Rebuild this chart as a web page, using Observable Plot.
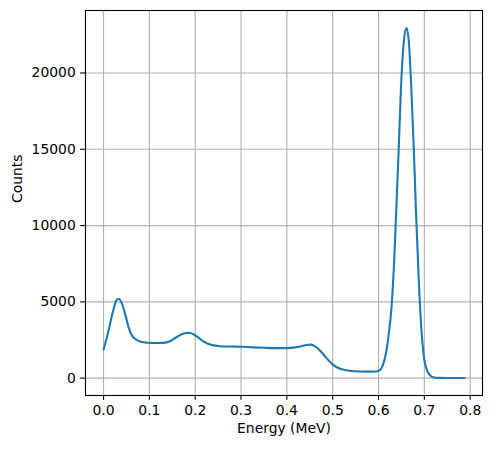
<!DOCTYPE html>
<html>
<head>
<meta charset="utf-8">
<script src="https://cdn.jsdelivr.net/npm/d3@7"></script>
<script src="https://cdn.jsdelivr.net/npm/@observablehq/plot@0.6"></script>
<style>
  html, body { margin: 0; padding: 0; background: #fff; }
  #chart { width: 492px; height: 450px; }
</style>
</head>
<body>
<div id="chart"></div>
<script>
// Energy (MeV) and counts
const energy = [
  0.000, 0.010, 0.020, 0.028, 0.033, 0.040, 0.048, 0.055, 0.062, 0.070,
  0.080, 0.090, 0.100, 0.115, 0.130, 0.145, 0.160, 0.175, 0.187, 0.197,
  0.207, 0.217, 0.228, 0.240, 0.255, 0.275, 0.300, 0.325, 0.350, 0.375,
  0.400, 0.415, 0.430, 0.443, 0.452, 0.460, 0.470, 0.480, 0.490, 0.500,
  0.510, 0.522, 0.540, 0.560, 0.580, 0.595, 0.603, 0.610, 0.616, 0.622,
  0.628, 0.634, 0.639, 0.644, 0.649, 0.655, 0.661, 0.666, 0.671, 0.677,
  0.682, 0.688, 0.694, 0.700, 0.706, 0.713, 0.720, 0.730, 0.750, 0.770,
  0.7875
];
const counts = [
  1880, 3000, 4300, 5100, 5200, 4900, 4100, 3300, 2800, 2550,
  2400, 2340, 2320, 2300, 2310, 2420, 2700, 2920, 2980, 2860,
  2650, 2420, 2250, 2150, 2090, 2070, 2060, 2020, 1990, 1970,
  1970, 2000, 2080, 2170, 2200, 2120, 1880, 1550, 1200, 900,
  700, 560, 470, 440, 430, 440, 520, 900, 1600, 2800,
  4500, 7600, 11200, 15000, 19000, 22000, 22950, 22100, 19400, 15000,
  10700, 6300, 3000, 1200, 500, 180, 60, 20, 10, 10,
  10
];
const xTicks = [0.0, 0.1, 0.2, 0.3, 0.4, 0.5, 0.6, 0.7, 0.8];
const yTicks = [0, 5000, 10000, 15000, 20000];
const xLabel = "Energy (MeV)";
const yLabel = "Counts";

const data = energy.map((e, i) => ({energy: e, counts: counts[i]}));

const xMin = d3.min(energy), xMax = d3.max(energy);
const yMin = d3.min(counts), yMax = d3.max(counts);
const xPad = (xMax - xMin) * 0.05, yPad = (yMax - yMin) * 0.05;

const tick = 4.86;
const chart = Plot.plot({
  width: 492,
  height: 450,
  marginLeft: 85,
  marginRight: 10,
  marginTop: 10,
  marginBottom: 55,
  style: {fontFamily: "DejaVu Sans", fontSize: "13.9px", color: "black", background: "white"},
  x: {domain: [xMin - xPad, xMax + xPad]},
  y: {domain: [yMin - yPad, yMax + yPad]},
  marks: [
    Plot.gridX(xTicks, {stroke: "#b0b0b0", strokeOpacity: 1, strokeWidth: 1.1}),
    Plot.gridY(yTicks, {stroke: "#b0b0b0", strokeOpacity: 1, strokeWidth: 1.1}),
    Plot.line(data, {x: "energy", y: "counts", stroke: "#1f77b4", strokeWidth: 2.1, curve: "monotone-x"}),
    Plot.frame({stroke: "black", strokeWidth: 1.1}),
    Plot.axisX(xTicks, {tickSize: tick, tickPadding: tick, tickFormat: d3.format(".1f"), strokeWidth: 1.1, label: null}),
    Plot.axisY(yTicks, {tickSize: tick, tickPadding: tick, tickFormat: d3.format("d"), strokeWidth: 1.1, label: null}),
    Plot.text([xLabel], {frameAnchor: "bottom", dy: 37, text: d => d, fill: "black"}),
    Plot.text([yLabel], {frameAnchor: "left", dx: -68, rotate: -90, text: d => d, fill: "black"})
  ]
});
document.getElementById("chart").appendChild(chart);
</script>
</body>
</html>
